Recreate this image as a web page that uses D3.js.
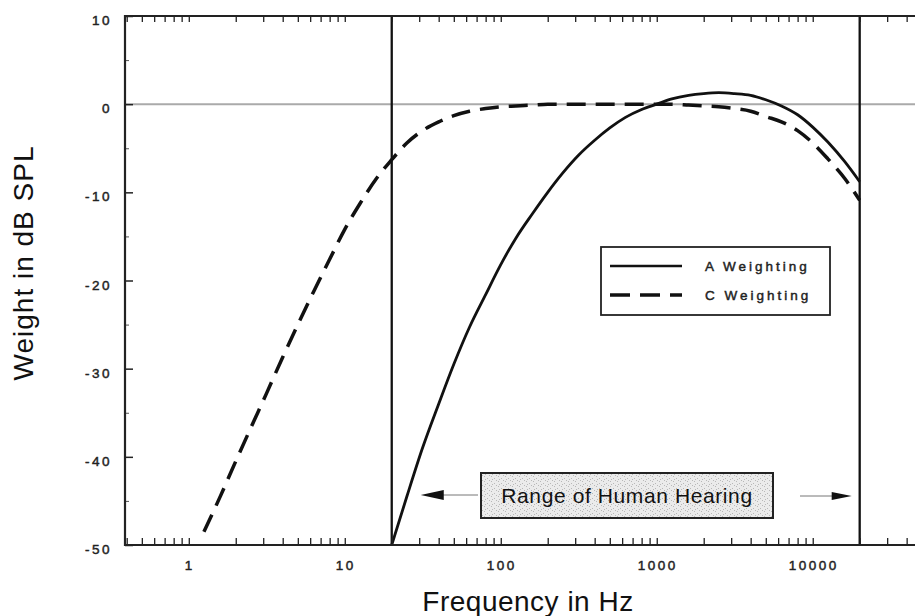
<!DOCTYPE html>
<html>
<head>
<meta charset="utf-8">
<script src="https://cdn.jsdelivr.net/npm/d3@7"></script>
<style>
  body { margin: 0; background: #fff; }
  svg { display: block; font-family: "Liberation Sans", Arial, sans-serif; }
  .small { stroke: #222; stroke-width: 0.45; }
</style>
</head>
<body>
<svg id="chart" width="915" height="616"></svg>
<script>
// frequencies (Hz) and weights (dB)
const freqA = [20, 25, 31.5, 40, 50, 63, 80, 100, 125, 160, 200, 250, 315, 400, 500, 630, 800,
  1000, 1250, 1600, 2000, 2500, 3150, 4000, 5000, 6300, 8000, 10000, 12500, 16000, 20000];
const weightA = [-50, -44.5, -39, -34, -29.5, -25.3, -21.6, -18.2, -15.2, -12.4, -10, -7.8, -5.8, -4.1, -2.7, -1.5, -0.6,
  0, 0.6, 1.0, 1.2, 1.3, 1.2, 1.0, 0.5, -0.2, -1.2, -2.6, -4.3, -6.5, -8.8];

const freqC = [1.25, 1.6, 2, 2.5, 3.15, 4, 5, 6.3, 8, 10, 12.5, 16, 20, 25, 31.5, 40, 50, 63, 80, 100, 125, 160,
  200, 250, 315, 400, 500, 630, 800, 1000, 1250, 1600, 2000, 2500, 3150, 4000, 5000, 6300, 8000, 10000, 12500, 16000, 20000];
const weightC = [-48.5, -44.4, -40.5, -36.7, -32.8, -28.7, -25.0, -21.3, -17.6, -14.2, -11.3, -8.4, -6.3, -4.4, -3.0, -2.0, -1.3, -0.8, -0.5, -0.3, -0.2, -0.1,
  0, 0, 0, 0, 0, 0, 0, 0, 0, -0.1, -0.2, -0.3, -0.5, -0.8, -1.4, -2.0, -3.0, -4.4, -6.2, -8.4, -10.9];

const xTickLabels = [1, 10, 100, 1000, 10000];
const yTickLabels = [10, 0, -10, -20, -30, -40, -50];
const hearingRange = [20, 20000];
const legendNames = ["A Weighting", "C Weighting"];

const svg = d3.select("#chart");
const plotLeft = 125, plotTop = 16, plotBottom = 545, plotRight = 919;

const x = d3.scaleLog().domain([0.39, 48000]).range([plotLeft, plotRight]);
const y = d3.scaleLinear().domain([-50, 10]).range([plotBottom, plotTop]);

// stippled fill for the annotation box
const defs = svg.append("defs");
const pat = defs.append("pattern")
    .attr("id", "stipple")
    .attr("width", 7).attr("height", 5)
    .attr("patternUnits", "userSpaceOnUse");
pat.append("rect").attr("width", 7).attr("height", 5).attr("fill", "#ebebeb");
[[1, 1], [4, 3], [6, 0], [2, 4]].forEach(p => {
    pat.append("rect").attr("x", p[0]).attr("y", p[1]).attr("width", 1).attr("height", 1).attr("fill", "#b8b8b8");
});

defs.append("clipPath").attr("id", "plot-clip")
    .append("rect")
    .attr("x", plotLeft).attr("y", plotTop)
    .attr("width", plotRight - plotLeft).attr("height", plotBottom - plotTop);

// zero line
svg.append("line")
    .attr("x1", plotLeft).attr("x2", plotRight)
    .attr("y1", y(0)).attr("y2", y(0))
    .attr("stroke", "#aaa")
    .attr("stroke-width", 2);

// curves
const line = d3.line()
    .x(d => x(d[0]))
    .y(d => y(d[1]))
    .curve(d3.curveMonotoneX);

const plot = svg.append("g").attr("clip-path", "url(#plot-clip)");

plot.append("path")
    .datum(d3.zip(freqC, weightC))
    .attr("fill", "none")
    .attr("stroke", "#111")
    .attr("stroke-width", 3.5)
    .attr("stroke-dasharray", "19,10")
    .attr("d", line);

plot.append("path")
    .datum(d3.zip(freqA, weightA))
    .attr("fill", "none")
    .attr("stroke", "#111")
    .attr("stroke-width", 2.8)
    .attr("d", line);

// vertical lines at the limits of hearing
svg.selectAll(".limit")
    .data(hearingRange)
    .enter()
    .append("line")
    .attr("class", "limit")
    .attr("x1", d => x(d)).attr("x2", d => x(d))
    .attr("y1", plotTop).attr("y2", plotBottom)
    .attr("stroke", "#111")
    .attr("stroke-width", 2.3);

// axes (ticks point into the plot)
const logTicks = x.ticks().filter(t => t > 0.395);

svg.append("g")
    .attr("transform", `translate(0,${plotTop})`)
    .call(d3.axisBottom(x).tickValues(logTicks).tickSize(6).tickFormat(""))
    .call(g => g.select(".domain").remove())
    .call(g => g.selectAll("line").attr("stroke", "#222").attr("stroke-width", 1.3));

svg.append("g")
    .attr("transform", `translate(0,${plotBottom})`)
    .call(d3.axisTop(x).tickValues(logTicks).tickSize(7).tickFormat(""))
    .call(g => g.select(".domain").remove())
    .call(g => g.selectAll("line").attr("stroke", "#222").attr("stroke-width", 1.3));

svg.append("g")
    .attr("transform", `translate(${plotLeft},0)`)
    .call(d3.axisRight(y).tickValues(d3.range(-45, 10, 10)).tickSize(4).tickFormat(""))
    .call(g => g.select(".domain").remove())
    .call(g => g.selectAll("line").attr("stroke", "#555").attr("stroke-width", 1));

svg.append("g")
    .attr("transform", `translate(${plotLeft},0)`)
    .call(d3.axisRight(y).tickValues(yTickLabels).tickSize(8).tickFormat(""))
    .call(g => g.select(".domain").remove())
    .call(g => g.selectAll("line").attr("stroke", "#222").attr("stroke-width", 1.5));

// frame lines
svg.append("line")
    .attr("x1", plotLeft).attr("x2", plotRight).attr("y1", plotTop).attr("y2", plotTop)
    .attr("stroke", "#222").attr("stroke-width", 2);
svg.append("line")
    .attr("x1", plotLeft).attr("x2", plotRight).attr("y1", plotBottom).attr("y2", plotBottom)
    .attr("stroke", "#222").attr("stroke-width", 2);
svg.append("line")
    .attr("x1", plotLeft).attr("x2", plotLeft).attr("y1", plotTop - 1).attr("y2", plotBottom + 1)
    .attr("stroke", "#222").attr("stroke-width", 2.2);

// tick labels
svg.selectAll(".xlab")
    .data(xTickLabels)
    .enter()
    .append("text")
    .attr("class", "xlab small")
    .attr("x", d => x(d) + 1)
    .attr("y", 570)
    .attr("text-anchor", "middle")
    .attr("font-size", 13.5)
    .attr("letter-spacing", 2.5)
    .attr("fill", "#222")
    .text(d => d);

svg.selectAll(".ylab")
    .data(yTickLabels)
    .enter()
    .append("text")
    .attr("class", "ylab small")
    .attr("x", 112)
    .attr("y", d => y(d) + 9)
    .attr("text-anchor", "end")
    .attr("font-size", 13.5)
    .attr("letter-spacing", 2.5)
    .attr("fill", "#222")
    .text(d => d);

// axis titles
svg.append("text")
    .attr("x", 528)
    .attr("y", 611)
    .attr("text-anchor", "middle")
    .attr("font-size", 28)
    .attr("letter-spacing", 0.5)
    .attr("fill", "#111")
    .text("Frequency in Hz");

svg.append("text")
    .attr("transform", "translate(33,263) rotate(-90)")
    .attr("text-anchor", "middle")
    .attr("font-size", 28)
    .attr("letter-spacing", 1)
    .attr("fill", "#111")
    .text("Weight in dB SPL");

// legend
const legend = svg.append("g").attr("transform", "translate(601,247)");
legend.append("rect")
    .attr("width", 229).attr("height", 68)
    .attr("fill", "#fff")
    .attr("stroke", "#222").attr("stroke-width", 1.8);
legend.selectAll(".key")
    .data(legendNames)
    .enter()
    .append("line")
    .attr("x1", 9).attr("x2", 81)
    .attr("y1", (d, i) => 19 + i * 29).attr("y2", (d, i) => 19 + i * 29)
    .attr("stroke", "#111")
    .attr("stroke-width", (d, i) => i ? 3.5 : 2.5)
    .attr("stroke-dasharray", (d, i) => i ? "20,10" : null);
legend.selectAll(".name")
    .data(legendNames)
    .enter()
    .append("text")
    .attr("class", "small")
    .attr("x", 104)
    .attr("y", (d, i) => 24 + i * 29)
    .attr("font-size", 13.5)
    .attr("letter-spacing", 3)
    .attr("fill", "#222")
    .text(d => d);

// "Range of Human Hearing" annotation
const ay = 495;
const lo = x(hearingRange[0]), hi = x(hearingRange[1]);
svg.append("rect")
    .attr("x", 481).attr("y", 473)
    .attr("width", 292).attr("height", 45)
    .attr("fill", "url(#stipple)")
    .attr("stroke", "#222").attr("stroke-width", 2);
svg.append("text")
    .attr("x", 627).attr("y", 503)
    .attr("text-anchor", "middle")
    .attr("font-size", 21)
    .attr("letter-spacing", 0.6)
    .attr("fill", "#111")
    .text("Range of Human Hearing");

svg.append("line")
    .attr("x1", lo + 51).attr("x2", 478).attr("y1", ay).attr("y2", ay)
    .attr("stroke", "#777").attr("stroke-width", 1);
svg.append("path")
    .attr("d", `M${lo + 29},${ay} L${lo + 52},${ay - 5} L${lo + 52},${ay + 5} Z`)
    .attr("fill", "#111");
svg.append("line")
    .attr("x1", 800).attr("x2", hi - 27).attr("y1", ay + 1).attr("y2", ay + 1)
    .attr("stroke", "#777").attr("stroke-width", 1);
svg.append("path")
    .attr("d", `M${hi - 8},${ay + 1} L${hi - 28},${ay - 3} L${hi - 28},${ay + 5} Z`)
    .attr("fill", "#111");
</script>
</body>
</html>
